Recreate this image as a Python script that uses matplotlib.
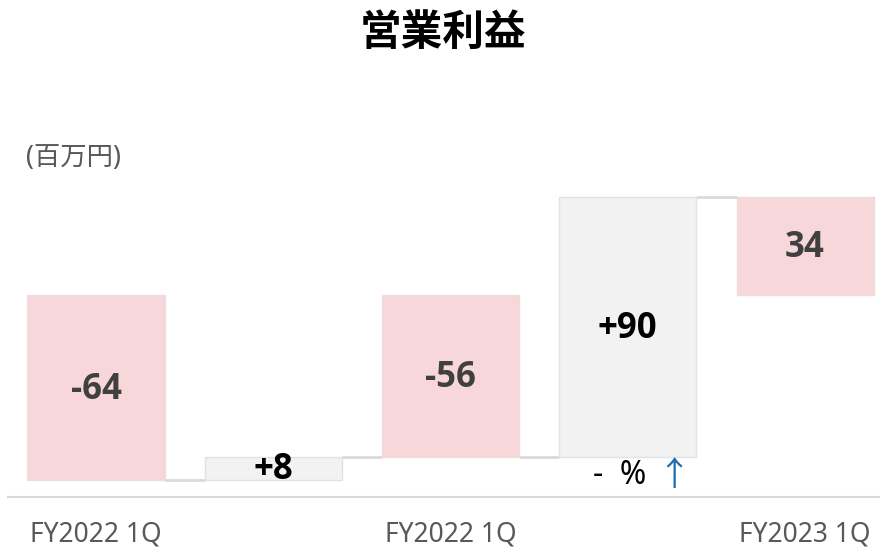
import matplotlib.pyplot as plt

plt.rcParams['font.family'] = ['Noto Sans CJK JP', 'DejaVu Sans']
LATIN = ['Noto Sans', 'Noto Sans CJK JP']
LATIN_BOLD = ['Open Sans', 'Noto Sans CJK JP']

# data
title = "営業利益"
unit_label = "(百万円)"
categories = ["FY2022 1Q", "", "FY2022 1Q", "", "FY2023 1Q"]
values = [-64, 8, -56, 90, 34]
is_total = [True, False, True, False, True]
value_labels = ["-64", "+8", "-56", "+90", "34"]
growth_text = "-  %"
growth_arrow = "↑"

PINK = "#f8d7da"
PINK_EDGE = "#eddcde"
GREY = "#f2f2f2"
GREY_EDGE = "#e2e2e2"
LINE = "#d9d9d9"

fig = plt.figure(figsize=(8.8, 5.48), dpi=100)
ax = fig.add_axes([0, 51 / 548, 1, 497 / 548])

# waterfall: totals start at zero, deltas start at the running level
bottoms, tops, levels = [], [], []
level = 0
for v, tot in zip(values, is_total):
    if tot:
        b, t = 0, v
        level = v
    else:
        b, t = level, level + v
        level += v
    bottoms.append(b)
    tops.append(t)
    levels.append(level)

width = 0.773
x = list(range(len(values)))
for i in x:
    ax.bar(i, tops[i] - bottoms[i], bottom=bottoms[i], width=width,
           color=PINK if is_total[i] else GREY,
           edgecolor=PINK_EDGE if is_total[i] else GREY_EDGE, lw=1, zorder=2)
    mid = (bottoms[i] + tops[i]) / 2
    # labels sit a touch below the bar middle, like the original
    ax.text(i, mid - 0.8, value_labels[i], ha='center', va='center', fontsize=25,
            fontweight='bold', family=LATIN_BOLD,
            color='#404040' if is_total[i] else 'black', zorder=3)

# connectors
for i in x[:-1]:
    ax.plot([i + width / 2, i + 1 - width / 2], [levels[i], levels[i]],
            color=LINE, lw=2, solid_capstyle='butt', zorder=1)

# growth note under the last delta bar
ax.text(2.956, -62.7, growth_text, ha='center', va='center', fontsize=23,
        family=LATIN, color='black')
ax.text(3.261, -62.7, growth_arrow, ha='center', va='center', fontsize=24, color='#1f6fb0')

ax.set_xlim(-0.5416, 4.423)
ax.set_ylim(-70, 102.1)
for s in ['top', 'right', 'left']:
    ax.spines[s].set_visible(False)
ax.spines['bottom'].set_color(LINE)
ax.spines['bottom'].set_linewidth(1.5)
ax.spines['bottom'].set_bounds(-0.5416 + 8 / 177.25, 4.423)
ax.set_yticks([])
ax.set_xticks(x, categories)
ax.tick_params(axis='x', length=0, pad=17, labelsize=19, labelcolor='#595959')
for lab in ax.get_xticklabels():
    lab.set_family(LATIN)

fig.text(0.503, 1 - 33 / 548, title, ha='center', va='center', fontsize=30,
         fontweight='bold', color='black')
fig.text(26 / 880, 1 - 158 / 548, unit_label, ha='left', va='center', fontsize=19,
         family=LATIN, color='#595959')

fig.savefig('out.png', dpi=100)
